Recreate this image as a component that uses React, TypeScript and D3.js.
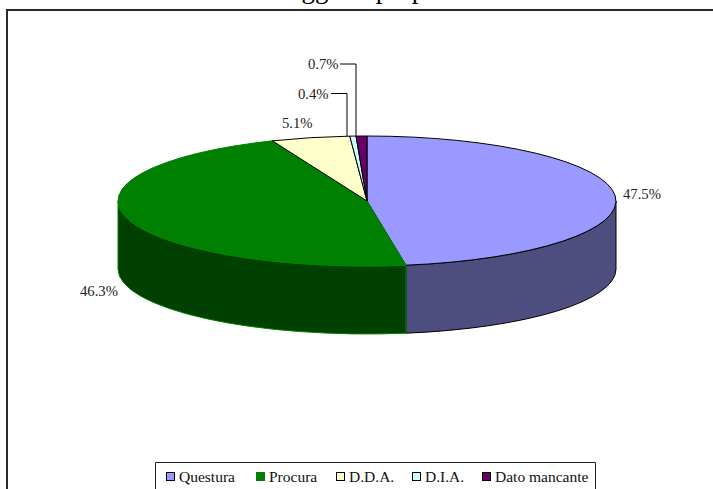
import React from "react";
import * as d3 from "d3";

const categories = ["Questura", "Procura", "D.D.A.", "D.I.A.", "Dato mancante"];
const shares = [47.5, 46.3, 5.1, 0.4, 0.7];
const topColors = ["#9999FF", "#008000", "#FFFFCC", "#CCFFFF", "#660066"];
const sideColors = ["#4D4D80", "#004000", "#808066", "#668080", "#330033"];
const titleText = "Soggetto proponente";
const serif = "'Liberation Serif', 'Times New Roman', serif";

const CX = 367, CY = 201, RX = 249, RY = 65, DEPTH = 68;
const px = (a: number) => CX + RX * Math.sin(a);
const py = (a: number, dy = 0) => CY - RY * Math.cos(a) + dy;

const pie = d3.pie<number>().sort(null).value((d) => d);
const arcs = pie(shares);

function topPath(a0: number, a1: number) {
  const large = a1 - a0 > Math.PI ? 1 : 0;
  return `M${CX},${CY}L${px(a0)},${py(a0)}A${RX},${RY} 0 ${large} 1 ${px(a1)},${py(a1)}Z`;
}
function sidePath(a0: number, a1: number) {
  const s = Math.max(a0, Math.PI / 2);
  const e = Math.min(a1, (3 * Math.PI) / 2);
  if (e <= s) return "";
  return `M${px(s)},${py(s)}A${RX},${RY} 0 0 1 ${px(e)},${py(e)}L${px(e)},${py(e, DEPTH)}A${RX},${RY} 0 0 0 ${px(s)},${py(s, DEPTH)}Z`;
}

const labelPos = [
  { x: 623, y: 199 },
  { x: 80, y: 296 },
  { x: 282, y: 128 },
  { x: 298, y: 98.5 },
  { x: 308, y: 69 },
];
const leaders = [null, null, null, "M331,93.5H347V136", "M340,64H356V136"];
const legendX = [166, 256, 336, 412, 482];
const legendTextX = [179, 269, 349, 425, 495];

export default function App() {
  return (
    <svg
      width={713}
      height={489}
      style={{ position: "absolute", left: 0, top: 0, background: "#fff" }}
      fontFamily={serif}
    >
      <text x={273} y={-2} fontSize={27} fill="#000">{titleText}</text>
      <path d="M7,489V10H713" fill="none" stroke="#2b2b2b" strokeWidth={2} />

      {arcs.map((d, i) => (
        <path
          key={"side" + i}
          d={sidePath(d.startAngle, d.endAngle)}
          fill={sideColors[i]}
          stroke={i === 1 ? "#008000" : "#000"}
          strokeWidth={1}
        />
      ))}
      {arcs.map((d, i) => (
        <path
          key={"top" + i}
          d={topPath(d.startAngle, d.endAngle)}
          fill={topColors[i]}
          stroke={i === 1 ? "#008000" : "#000"}
          strokeWidth={1}
        />
      ))}

      {leaders.map((d, i) =>
        d ? <path key={"lead" + i} d={d} fill="none" stroke="#000" strokeWidth={1} /> : null
      )}
      {arcs.map((d, i) => (
        <text key={"lab" + i} x={labelPos[i].x} y={labelPos[i].y} fontSize={14.7} fill="#222">
          {d.data.toFixed(1)}%
        </text>
      ))}

      <path d="M155.5,489V462.5H595.5V489" fill="#fff" stroke="#222" strokeWidth={1} />
      {categories.map((c, i) => (
        <g key={c}>
          <rect
            x={legendX[i] + 0.5}
            y={472.5}
            width={8}
            height={8}
            fill={topColors[i]}
            stroke={i === 1 ? "#008000" : "#000"}
            strokeWidth={1}
          />
          <text x={legendTextX[i]} y={482} fontSize={15.5} fill="#111">{c}</text>
        </g>
      ))}
    </svg>
  );
}
